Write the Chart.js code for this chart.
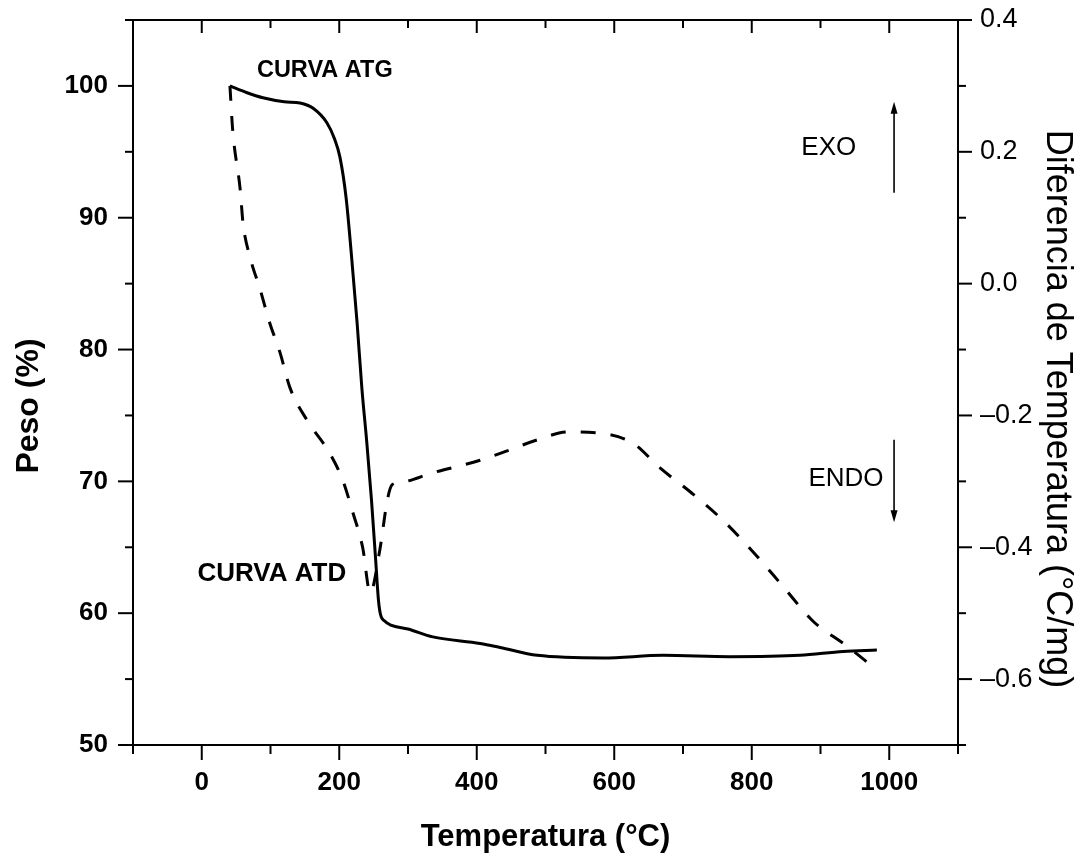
<!DOCTYPE html>
<html>
<head>
<meta charset="utf-8">
<script src="https://cdn.jsdelivr.net/npm/chart.js@4.4.1/dist/chart.umd.min.js"></script>
<style>
  html, body { margin: 0; padding: 0; background: #fff; }
  #wrap { width: 1078px; height: 857px; position: relative; }
</style>
</head>
<body>
<div id="wrap"><canvas id="chart"></canvas></div>
<script>
/* TGA / DTA curves: Chart.js scatter with lines */

// CURVA ATG (left axis, Peso %)
const atgTemp = [41, 65, 89, 120, 143, 162, 182, 193, 201, 210, 218, 226, 233, 240, 247, 253, 257, 260, 266, 275, 300, 336, 405, 434, 488, 584, 671, 768, 870, 933, 982];
const atgPeso = [100.0, 99.5, 99.1, 98.8, 98.7, 98.3, 97.2, 96.0, 94.6, 91.5, 87.0, 82.0, 77.0, 73.0, 68.5, 64.0, 61.0, 59.9, 59.4, 59.1, 58.8, 58.2, 57.7, 57.4, 56.8, 56.6, 56.8, 56.7, 56.8, 57.1, 57.2];

// CURVA ATD (right axis, °C/mg)
const atdTemp = [41, 45, 56, 60, 70, 85, 99, 114, 128, 153, 186, 205, 220, 234, 245, 259, 270, 277, 288, 336, 405, 441, 488, 533, 580, 627, 667, 713, 758, 802, 846, 890, 936, 977];
const atdDiff = [0.30, 0.233, 0.142, 0.092, 0.041, -0.009, -0.060, -0.105, -0.157, -0.207, -0.257, -0.298, -0.348, -0.400, -0.469, -0.404, -0.328, -0.305, -0.302, -0.287, -0.268, -0.255, -0.237, -0.225, -0.227, -0.242, -0.280, -0.318, -0.359, -0.407, -0.460, -0.513, -0.548, -0.582];

// ticks
const xMajor = [0, 200, 400, 600, 800, 1000];
const xMinor = [-100, 100, 300, 500, 700, 900, 1100];
const yMajor = [50, 60, 70, 80, 90, 100];
const yMinor = [55, 65, 75, 85, 95, 105];
const y1Major = [-0.6, -0.4, -0.2, 0.0, 0.2, 0.4];
const y1Minor = [-0.7, -0.5, -0.3, -0.1, 0.1, 0.3];

const FONT = "'Liberation Sans', Arial, sans-serif";

function pts(xs, ys) {
  return xs.map((x, i) => ({ x, y: ys[i] }));
}

const frame = {
  id: 'frame',
  afterDraw(chart) {
    const { ctx, chartArea: a, scales } = chart;
    const sx = scales.x, sy = scales.y, sy1 = scales.y1;
    ctx.save();
    ctx.strokeStyle = '#000';
    ctx.fillStyle = '#000';
    ctx.lineWidth = 2;
    const line = (x1, y1, x2, y2) => {
      ctx.beginPath(); ctx.moveTo(x1, y1); ctx.lineTo(x2, y2); ctx.stroke();
    };
    // top frame line
    line(a.left - 1, a.top, a.right + 1, a.top);
    xMajor.forEach(v => {
      const p = sx.getPixelForValue(v);
      line(p, a.bottom, p, a.bottom + 15);
      line(p, a.top, p, a.top + 13);
    });
    xMinor.forEach(v => {
      const p = sx.getPixelForValue(v);
      line(p, a.bottom, p, a.bottom + 9);
      line(p, a.top, p, a.top + 8);
    });
    yMajor.forEach(v => { const p = sy.getPixelForValue(v); line(a.left - 15, p, a.left, p); });
    yMinor.forEach(v => { const p = sy.getPixelForValue(v); line(a.left - 8, p, a.left, p); });
    y1Major.forEach(v => { const p = sy1.getPixelForValue(v); line(a.right, p, a.right + 14, p); });
    y1Minor.forEach(v => { const p = sy1.getPixelForValue(v); line(a.right, p, a.right + 8, p); });

    // curve labels
    ctx.textAlign = 'center';
    ctx.textBaseline = 'middle';
    ctx.font = 'bold 23.5px ' + FONT;
    ctx.fillText('CURVA ATG', sx.getPixelForValue(179), sy.getPixelForValue(101.2));
    ctx.font = 'bold 26px ' + FONT;
    ctx.fillText('CURVA ATD', sx.getPixelForValue(102), sy.getPixelForValue(63.0));
    ctx.font = '26px ' + FONT;
    ctx.fillText('EXO', sx.getPixelForValue(912), sy1.getPixelForValue(0.206));
    ctx.fillText('ENDO', sx.getPixelForValue(937), sy1.getPixelForValue(-0.296));

    // arrows
    const arrow = (xv, from, to) => {
      const px = sx.getPixelForValue(xv);
      const p1 = sy1.getPixelForValue(from), p2 = sy1.getPixelForValue(to);
      const dir = p2 > p1 ? 1 : -1;
      ctx.lineWidth = 1.6;
      line(px, p1, px, p2 - dir * 8);
      ctx.beginPath();
      ctx.moveTo(px, p2);
      ctx.lineTo(px - 3.5, p2 - dir * 12);
      ctx.lineTo(px + 3.5, p2 - dir * 12);
      ctx.closePath();
      ctx.fill();
    };
    arrow(1007, 0.138, 0.276);
    arrow(1007, -0.237, -0.362);

    // axis titles
    ctx.font = 'bold 31px ' + FONT;
    ctx.fillText('Temperatura (°C)', (a.left + a.right) / 2, 837);
    ctx.save();
    ctx.translate(29, 406);
    ctx.rotate(-Math.PI / 2);
    ctx.font = 'bold 32px ' + FONT;
    ctx.fillText('Peso (%)', 0, 0);
    ctx.restore();
    ctx.save();
    ctx.translate(1057, 409);
    ctx.rotate(Math.PI / 2);
    ctx.font = '36px ' + FONT;
    ctx.fillText('Diferencia de Temperatura (°C/mg)', 0, 0);
    ctx.restore();
    ctx.restore();
  }
};

// fixed box sizes so the plot area sits where the original has it
function fitSide(w) {
  return s => { s.width = w; s.paddingTop = 20; s.paddingBottom = 0; };
}

const ctx = document.getElementById('chart');
new Chart(ctx, {
  type: 'scatter',
  data: {
    datasets: [
      {
        label: 'CURVA ATG',
        data: pts(atgTemp, atgPeso),
        yAxisID: 'y',
        showLine: true,
        borderColor: '#000',
        borderWidth: 3,
        pointRadius: 0,
        cubicInterpolationMode: 'monotone',
      },
      {
        label: 'CURVA ATD',
        data: pts(atdTemp, atdDiff),
        yAxisID: 'y1',
        showLine: true,
        borderColor: '#000',
        borderWidth: 3,
        borderDash: [15, 15],
        pointRadius: 0,
        cubicInterpolationMode: 'monotone',
      },
    ],
  },
  options: {
    responsive: true,
    maintainAspectRatio: false,
    animation: false,
    layout: { padding: 0 },
    plugins: { legend: { display: false }, tooltip: { enabled: false } },
    scales: {
      x: {
        type: 'linear', position: 'bottom', min: -100, max: 1100,
        afterBuildTicks: s => { s.ticks = xMajor.map(v => ({ value: v })); },
        afterFit: s => { s.height = 112; },
        grid: { display: false, drawTicks: false },
        border: { display: true, color: '#000', width: 2 },
        ticks: { color: '#000', padding: 22, maxRotation: 0, autoSkip: false,
                 font: { family: FONT, size: 26, weight: 'bold' },
                 callback: v => String(v) },
      },
      y: {
        type: 'linear', position: 'left', min: 50, max: 105,
        afterBuildTicks: s => { s.ticks = yMajor.map(v => ({ value: v })); },
        afterFit: fitSide(133),
        grid: { display: false, drawTicks: false },
        border: { display: true, color: '#000', width: 2 },
        ticks: { color: '#000', padding: 25, autoSkip: false,
                 font: { family: FONT, size: 26, weight: 'bold' },
                 callback: v => String(v) },
      },
      y1: {
        type: 'linear', position: 'right', min: -0.7, max: 0.4,
        afterBuildTicks: s => { s.ticks = y1Major.map(v => ({ value: v })); },
        afterFit: fitSide(120),
        grid: { display: false, drawTicks: false },
        border: { display: true, color: '#000', width: 2 },
        ticks: { color: '#000', padding: 22, autoSkip: false,
                 font: { family: FONT, size: 27 },
                 callback: v => v.toFixed(1).replace('-', '\u2013') },
      },
    },
  },
  plugins: [frame],
});
</script>
</body>
</html>
